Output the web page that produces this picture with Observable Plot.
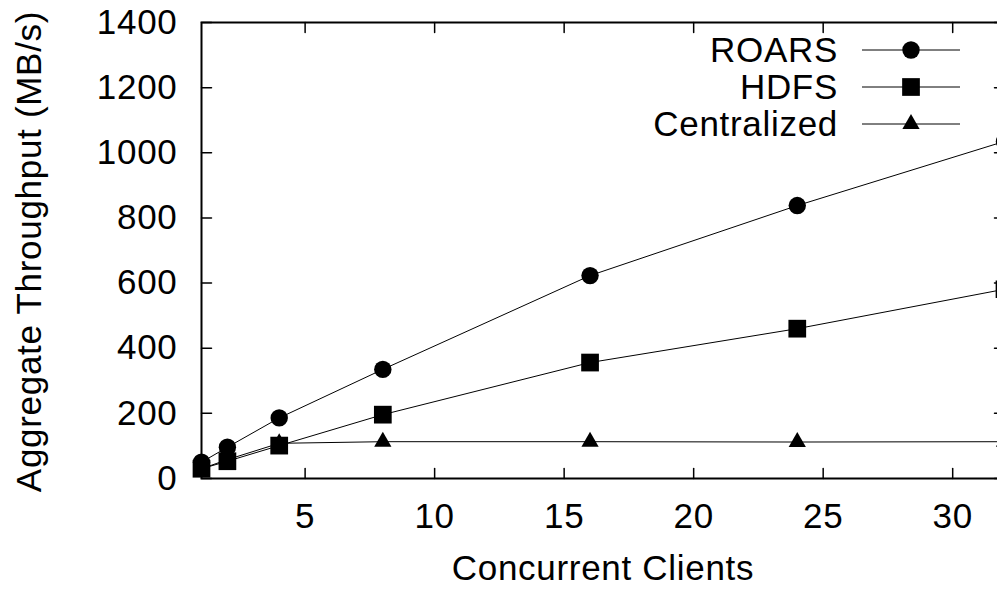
<!DOCTYPE html>
<html><head><meta charset="utf-8">
<script src="https://cdn.jsdelivr.net/npm/d3@7"></script>
<script src="https://cdn.jsdelivr.net/npm/@observablehq/plot@0.6"></script>
<style>
html,body{margin:0;padding:0;background:#fff;overflow:hidden;}
#chart{position:relative;width:997px;height:590px;}
#legend{position:absolute;left:0;top:0;pointer-events:none;}
svg text{letter-spacing:0.7px;}
</style></head><body><div id="chart"></div>
<script>
// ---- data ----
const clients = [1, 2, 4, 8, 16, 24, 32];
const roars = [50, 96, 186, 335, 623, 838, 1035];
const hdfs = [30, 53, 101, 196, 356, 460, 581];
const centralized = [30, 58, 108, 113, 113, 112, 113];
const seriesNames = ["ROARS", "HDFS", "Centralized"];
const seriesSymbols = ["circle", "square", "triangle"];
const xTicks = [5, 10, 15, 20, 25, 30];
const yTicks = [0, 200, 400, 600, 800, 1000, 1200, 1400];
const xDomain = [1, 32];
const yDomain = [0, 1400];
const xLabel = "Concurrent Clients";
const yLabel = "Aggregate Throughput (MB/s)";

const seriesValues = [roars, hdfs, centralized];
const rows = [];
seriesNames.forEach((name, i) => {
  clients.forEach((c, j) => rows.push({series: name, x: c, y: seriesValues[i][j]}));
});

const FONT = "'Liberation Sans', Arial, Helvetica, sans-serif";
const FS = 35;
const symR = {circle: 8.7, square: 10, triangle: 6.4};

const tickShape = {draw(context, l) { context.moveTo(0, 0); context.lineTo(0, -l); }};
const tickOpts = {length: 10, anchor: "start", shape: tickShape, stroke: "black", strokeWidth: 1.5};

const plot = Plot.plot({
  width: 997,
  height: 590,
  marginLeft: 201,
  marginRight: -7,
  marginTop: 22,
  marginBottom: 112,
  style: {fontFamily: FONT, fontSize: FS + "px", background: "white", color: "black"},
  x: {domain: xDomain},
  y: {domain: yDomain},
  marks: [
    Plot.line(rows, {x: "x", y: "y", z: "series", stroke: "black", strokeWidth: 1}),
    ...seriesNames.map((name, i) =>
      Plot.dot(rows.filter(d => d.series === name), {
        x: "x", y: "y", symbol: seriesSymbols[i], r: symR[seriesSymbols[i]], fill: "black", stroke: "none"
      })
    ),
    // inward ticks (bottom, top, left, right)
    Plot.vector(xTicks, {x: d => d, y: () => yDomain[0], rotate: 0, ...tickOpts}),
    Plot.vector(xTicks, {x: d => d, y: () => yDomain[1], rotate: 180, ...tickOpts}),
    Plot.vector(yTicks, {x: () => xDomain[0], y: d => d, rotate: 90, ...tickOpts}),
    Plot.vector(yTicks, {x: () => xDomain[1], y: d => d, rotate: -90, ...tickOpts}),
    Plot.frame({stroke: "black", strokeWidth: 2}),
    Plot.axisX({ticks: xTicks, tickFormat: d => String(d), tickSize: 0, tickPadding: 25, fontSize: FS, label: null, lineAnchor: "top"}),
    Plot.axisY({ticks: yTicks, tickFormat: d => String(d), tickSize: 0, tickPadding: 24, fontSize: FS, label: null}),
    Plot.text([xLabel], {frameAnchor: "bottom", lineAnchor: "top", textAnchor: "middle", dy: 77, text: d => d, fontSize: FS, fill: "black"}),
    Plot.text([yLabel], {frameAnchor: "left", rotate: -90, lineAnchor: "top", textAnchor: "middle", dx: -185, dy: 1, text: d => d, fontSize: FS, fill: "black"})
  ]
});
document.getElementById("chart").appendChild(plot);

// ---- legend overlay ----
const legend = d3.select("#chart").append("svg")
  .attr("id", "legend").attr("width", 997).attr("height", 590)
  .style("font-family", FONT).style("font-size", FS + "px");
const symMap = {circle: d3.symbolCircle, square: d3.symbolSquare, triangle: d3.symbolTriangle};
const item = legend.selectAll("g").data(seriesNames).join("g")
  .attr("transform", (d, i) => `translate(0,${50 + i * 37})`);
item.append("text").attr("x", 838).attr("dy", "0.35em").attr("text-anchor", "end").attr("fill", "black").text(d => d);
item.append("line").attr("x1", 862).attr("x2", 960).attr("stroke", "black").attr("stroke-width", 1);
item.append("path")
  .attr("transform", "translate(911,0)")
  .attr("d", (d, i) => d3.symbol(symMap[seriesSymbols[i]], Math.PI * symR[seriesSymbols[i]] ** 2)())
  .attr("fill", "black");
</script></body></html>
